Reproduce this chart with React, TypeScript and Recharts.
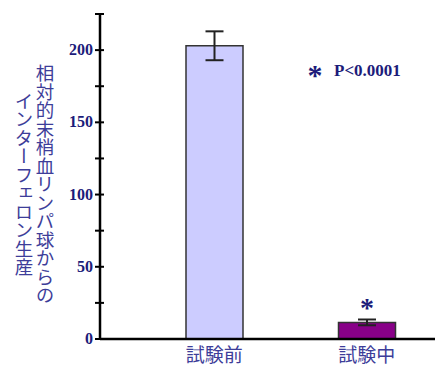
import React from "react";
import {
  ComposedChart,
  Bar,
  Cell,
  ErrorBar,
  XAxis,
  YAxis,
  LabelList,
  Customized,
} from "recharts";

// interferon production, before vs. during the trial
const groups = ["試験前", "試験中"];
const means = [203, 11.5];
const errors = [10, 2];
const barColors = ["#CCCCFF", "#880088"];
const starred = [false, true];
const yTicks = [0, 25, 50, 75, 100, 125, 150, 175, 200, 225];
const yLabelLines = ["相対的末梢血リンパ球からの", "インターフェロン生産"];
const pValueText = "P<0.0001";

const data = groups.map((g, i) => ({
  group: g,
  value: means[i],
  err: errors[i],
  star: starred[i],
}));

const NAVY = "#1c1c7a";
const LABEL_BLUE = "#3d3d99";

const YTick = (props: any) => {
  const { x, y, payload } = props;
  const v = payload.value;
  return (
    <g>
      <line x1={x - 5} x2={x + 4} y1={y} y2={y} stroke="#000" strokeWidth={2} />
      {v % 50 === 0 && v <= 200 && (
        <text
          x={x - 7}
          y={y}
          dy={5}
          textAnchor="end"
          fill={NAVY}
          fontFamily="'Liberation Serif', serif"
          fontWeight="bold"
          fontSize={16}
        >
          {v}
        </text>
      )}
    </g>
  );
};

const XTick = (props: any) => {
  const { x, y, payload } = props;
  return (
    <text
      x={x}
      y={y + 15}
      textAnchor="middle"
      fill={LABEL_BLUE}
      fontFamily="'Noto Sans CJK JP', sans-serif"
      fontSize={19}
    >
      {payload.value}
    </text>
  );
};

const YLabel = () => (
  <g>
    {yLabelLines.map((line, i) => (
      <text
        key={i}
        x={i === 0 ? 45 : 24}
        y={184}
        textAnchor="middle"
        fill={LABEL_BLUE}
        fontFamily="'Noto Sans CJK JP', sans-serif"
        fontSize={18.5}
        style={{ writingMode: "vertical-rl" }}
      >
        {line}
      </text>
    ))}
  </g>
);

const PValue = () => (
  <g fontFamily="'Liberation Serif', serif" fontWeight="bold" fill={NAVY}>
    <text x={315} y={85} textAnchor="middle" fontSize={30}>
      *
    </text>
    <text x={334} y={76} fontSize={17}>
      {pValueText}
    </text>
  </g>
);

const StarLabel = (props: any) => {
  const { x, y, width, index } = props;
  if (!data[index]?.star) return null;
  return (
    <text
      x={x + width / 2}
      y={y - 5}
      textAnchor="middle"
      fill={NAVY}
      fontFamily="'Liberation Serif', serif"
      fontWeight="bold"
      fontSize={28}
    >
      *
    </text>
  );
};

export default function App() {
  return (
    <div
      style={{
        position: "fixed",
        left: 0,
        top: 0,
        width: 435,
        height: 367,
        overflow: "hidden",
        background: "#fff",
      }}
    >
      <ComposedChart
        width={450}
        height={367}
        data={data}
        margin={{ top: 14, right: 0, bottom: 0, left: 0 }}
      >
        <XAxis
          dataKey="group"
          height={28}
          padding={{ left: 38, right: 7 }}
          axisLine={{ stroke: "#000", strokeWidth: 2.5 }}
          tickLine={false}
          tick={<XTick />}
        />
        <YAxis
          width={100}
          domain={[0, 225]}
          ticks={yTicks}
          interval={0}
          axisLine={{ stroke: "#000", strokeWidth: 2.5 }}
          tickLine={false}
          tickSize={0}
          tickMargin={0}
          tick={<YTick />}
        />
        <Bar
          dataKey="value"
          barSize={57}
          stroke="#333"
          strokeWidth={1.5}
          isAnimationActive={false}
        >
          {data.map((d, i) => (
            <Cell key={d.group} fill={barColors[i]} />
          ))}
          <ErrorBar dataKey="err" width={9} stroke="#222" strokeWidth={2} />
          <LabelList dataKey="value" content={<StarLabel />} />
        </Bar>
        <Customized component={YLabel} />
        <Customized component={PValue} />
      </ComposedChart>
    </div>
  );
}
